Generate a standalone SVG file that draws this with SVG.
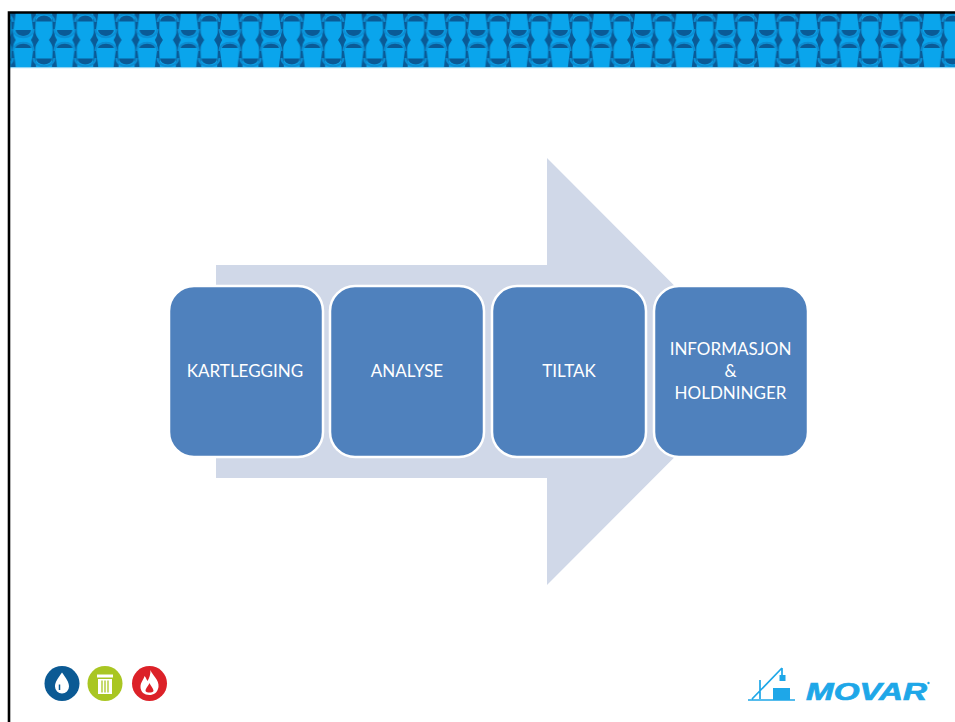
<svg xmlns="http://www.w3.org/2000/svg" width="955" height="722" viewBox="0 0 955 722">
<style>
.box{fill:#4f81bd;stroke:#fff;stroke-width:2.5}
.t{font-family:"Lato","Open Sans","Liberation Sans",sans-serif;font-size:17px;fill:#fff;text-anchor:middle}
.d{fill:#0a5a96}
.r{fill:none;stroke:#0b8ed4;stroke-width:2}
</style>
<defs>
<pattern id="zip" x="2.700" y="13" width="41.300" height="54" patternUnits="userSpaceOnUse">
<rect width="41.300" height="54" fill="#0aa5ec"/>
<path class="d" d="M8 0H13C12 8 11 14 10.500 20C10.500 23 12 25 13 27C12 29 10.500 31 10.500 34C11 40 12 46 13 54H8C8 46 9 40 8.500 34C8 31 6 29 5 27C6 25 8 23 8.500 20C9 14 8 8 8 0Z"/>
<path class="d" d="M28.300 0H33.300C33.300 8 32.300 14 32.800 20C33.300 23 35.300 25 36.300 27C35.300 29 33.300 31 32.800 34C32.300 40 33.300 46 33.300 54H28.300C29.300 46 30.300 40 30.800 34C30.800 31 29.300 29 28.300 27C29.300 25 30.800 23 30.800 20C30.300 14 29.300 8 28.300 0Z"/>
<path class="d" d="M33.500 8.500A7.800 6 0 0 1 49.100 8.500Z"/>
<path class="d" d="M-7.800 8.500A7.800 6 0 0 1 7.800 8.500Z"/>
<path class="d" d="M33.500 45.500A7.800 6 0 0 0 49.100 45.500Z"/>
<path class="d" d="M-7.800 45.500A7.800 6 0 0 0 7.800 45.500Z"/>
<path class="d" d="M12.800 17A7.800 6 0 0 0 28.400 17Z"/>
<path class="d" d="M12.800 35A7.800 6 0 0 1 28.400 35Z"/>
<path class="r" d="M31 9C31 -2 51.600 -2 51.600 9M31 45C31 56 51.600 56 51.600 45M-10.300 9C-10.300 -2 10.300 -2 10.300 9M-10.300 45C-10.300 56 10.300 56 10.300 45"/>
<path class="r" d="M10.300 16C10.300 27 31 27 31 16M10.300 38C10.300 27 31 27 31 38"/>
</pattern>
</defs>
<rect width="955" height="722" fill="#fff"/>
<rect x="8" y="12" width="947" height="55" fill="url(#zip)"/>
<rect x="10" y="67" width="945" height="1.200" fill="#8fd4f5"/>
<path d="M9 722V12.500H955" fill="none" stroke="#000" stroke-width="2.600"/>
<path id="bigarrow" d="M216 265H547V158L760 371.500L547 585V478H216Z" fill="#d0d8e8"/>
<g id="connectors"></g>
<g id="n1"><rect class="box" x="169" y="286" width="154" height="171" rx="25"/><text class="t" x="245" y="376.500">KARTLEGGING</text></g>
<g id="n2"><rect class="box" x="330" y="286" width="154" height="171" rx="25"/><text class="t" x="407" y="376.500">ANALYSE</text></g>
<g id="n3"><rect class="box" x="492" y="286" width="154" height="171" rx="25"/><text class="t" x="569" y="376.500">TILTAK</text></g>
<g id="n4"><rect class="box" x="654" y="286" width="154" height="171" rx="25"/><text class="t" x="730.500" y="355">INFORMASJON</text><text class="t" x="730.500" y="377">&amp;</text><text class="t" x="730.500" y="399">HOLDNINGER</text></g>
<g id="icon-water"><circle cx="62" cy="683.500" r="17.500" fill="#0b5a94"/><path d="M62 672.500C58 678 55 682 55 686.500A7 7 0 0 0 69 686.500C69 682 66 678 62 672.500Z" fill="#fff"/><path d="M59.500 684.500V690" stroke="#0b5a94" stroke-width="1.500"/></g>
<g id="icon-bin"><circle cx="105" cy="683.500" r="17.500" fill="#a9c622"/><path d="M97 674.500H113V677.500H97ZM98 679H112V694H98Z" fill="#fff"/><path d="M102 680.500V692.500M105 680.500V692.500M108 680.500V692.500" stroke="#a9c622" stroke-width="1.300"/></g>
<g id="icon-fire"><circle cx="149.500" cy="683.500" r="17.500" fill="#dc2128"/><path d="M150.500 670C152 675 159.500 680 158.500 687C157.500 693 153.500 695 149.500 695C144.500 695 140.500 692 140.500 687C140.500 682 143.500 680 144.500 676C146.500 678 146.500 680 147.500 681C149.500 678 150.500 674 150.500 670Z" fill="#fff"/><path d="M149.500 683C150.500 686 153.500 688 153.500 691C152.500 693 146.500 693 145.500 691C145.500 688 148.500 686 149.500 683Z" fill="#dc2128"/></g>
<g id="logo">
<path d="M752 699L782 668M760 680V699M748 700H795M782 668V675" fill="none" stroke="#1ea7e8" stroke-width="1.700"/>
<rect x="773" y="688" width="17" height="12" fill="#1ea7e8"/><rect x="779.500" y="675" width="6" height="6" fill="#1ea7e8"/>
<text x="806" y="700" font-family="Liberation Sans,sans-serif" font-weight="700" font-style="italic" font-size="24" fill="#1ea7e8" stroke="#1ea7e8" stroke-width="0.700" textLength="121" lengthAdjust="spacingAndGlyphs">MOVAR</text>
<circle cx="928.500" cy="683" r="1.200" fill="#1ea7e8"/>
</g>
</svg>
